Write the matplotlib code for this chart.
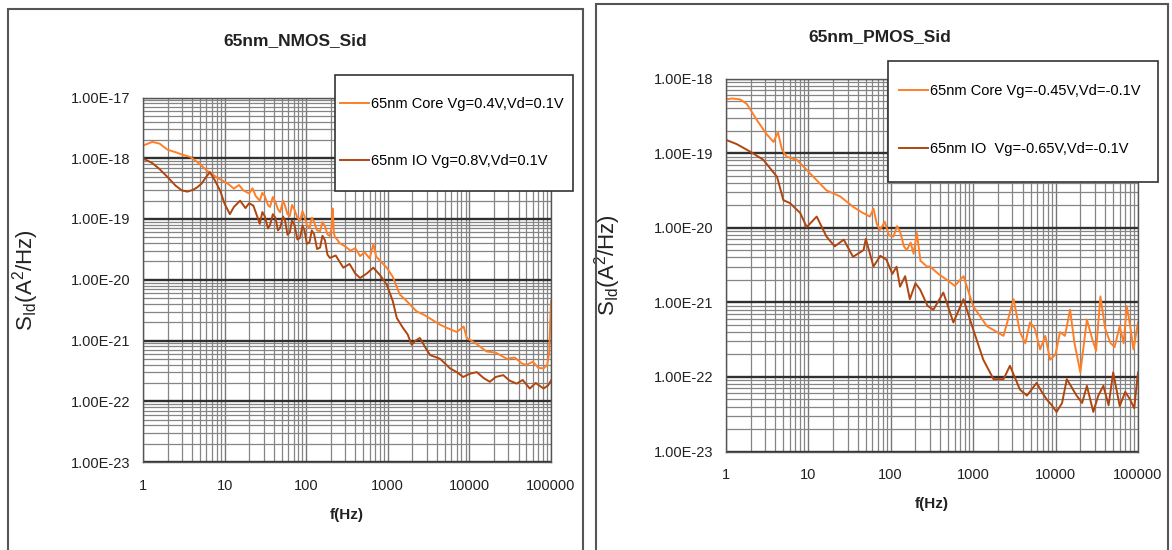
import matplotlib
matplotlib.use("Agg")
import matplotlib.pyplot as plt
from matplotlib.patches import Rectangle
from matplotlib.ticker import FixedLocator, FuncFormatter, NullFormatter

plt.rcParams['font.family'] = ['Liberation Sans', 'DejaVu Sans']

# --- data ---------------------------------------------------------------
nmos_core_f = [1, 1.15, 1.3, 1.6, 2.0, 2.5, 3.0, 3.8, 4.5, 5.2, 6.0, 7.0, 8.0, 9.5,
               11, 13, 15, 17, 20, 22, 24, 27, 29, 31, 34, 36, 39, 42, 45, 48, 52,
               55, 59, 63, 67, 72, 78, 84, 90, 95, 102, 110, 117, 125, 136, 148, 158,
               170, 182, 195, 205, 211, 218, 225, 240, 258, 300, 350, 400, 457, 520,
               600, 665, 720, 820, 970, 1150, 1400, 1700, 2250, 2800, 3500, 4370,
               5500, 7000, 8500, 9300, 12000, 16200, 21000, 28700, 36000, 44000,
               50000, 60000, 70000, 81000, 90000, 95000, 100000]
nmos_core_s = [1.62e-18, 1.74e-18, 1.86e-18, 1.74e-18, 1.38e-18, 1.26e-18, 1.15e-18,
               1.05e-18, 8.91e-19, 7.59e-19, 6.31e-19, 5.62e-19, 4.79e-19, 4.27e-19,
               3.80e-19, 3.16e-19, 3.63e-19, 2.95e-19, 2.63e-19, 3.20e-19, 2.40e-19,
               2.00e-19, 2.70e-19, 2.40e-19, 1.70e-19, 1.58e-19, 2.30e-19, 1.91e-19,
               1.45e-19, 1.29e-19, 2.00e-19, 1.66e-19, 1.20e-19, 1.12e-19, 1.70e-19,
               1.41e-19, 1.05e-19, 9.33e-20, 1.35e-19, 1.12e-19, 8.00e-20, 7.08e-20,
               1.05e-19, 8.91e-20, 6.50e-20, 6.31e-20, 8.90e-20, 7.59e-20, 5.60e-20,
               5.25e-20, 7.50e-20, 1.48e-19, 6.00e-20, 5.01e-20, 4.60e-20, 3.98e-20,
               3.55e-20, 3.02e-20, 3.31e-20, 2.45e-20, 2.82e-20, 2.24e-20, 3.89e-20,
               2.40e-20, 2.00e-20, 1.58e-20, 1.12e-20, 5.75e-21, 4.47e-21, 3.02e-21,
               2.63e-21, 2.19e-21, 1.82e-21, 1.58e-21, 1.38e-21, 1.70e-21, 1.10e-21,
               8.91e-22, 6.61e-22, 6.31e-22, 5.01e-22, 5.25e-22, 4.17e-22, 3.98e-22,
               4.47e-22, 3.55e-22, 3.47e-22, 3.98e-22, 6.31e-22, 4.47e-21]

nmos_io_f = [1, 1.1, 1.3, 1.6, 2.0, 2.5, 3.0, 3.5, 4.1, 4.6, 5.2, 6.0, 6.6, 7.5, 8.8,
             10, 11.6, 13, 15.5, 18, 20, 22.5, 25, 27, 29, 31, 34, 36, 39, 42, 45, 48,
             52, 55, 59, 63, 67, 72, 78, 84, 90, 95, 102, 110, 117, 125, 136, 148,
             158, 170, 182, 195, 230, 285, 340, 400, 457, 550, 665, 800, 970, 1150,
             1290, 1550, 1750, 1960, 2200, 2470, 2900, 3300, 4370, 5800, 7000, 8400,
             10000, 12300, 15000, 17800, 21000, 26000, 31000, 38000, 45000, 55000,
             65000, 81000, 92000, 100000]
nmos_io_s = [9.77e-19, 9.33e-19, 8.32e-19, 6.61e-19, 4.90e-19, 3.55e-19, 2.95e-19,
             2.82e-19, 3.02e-19, 3.31e-19, 3.80e-19, 5.01e-19, 5.89e-19, 4.47e-19,
             2.95e-19, 1.78e-19, 1.20e-19, 1.58e-19, 2.00e-19, 1.51e-19, 1.82e-19,
             1.66e-19, 1.12e-19, 8.32e-20, 1.30e-19, 1.12e-19, 7.00e-20, 7.94e-20,
             1.20e-19, 1.05e-19, 6.50e-20, 7.24e-20, 1.10e-19, 9.55e-20, 5.50e-20,
             6.03e-20, 9.50e-20, 7.94e-20, 4.60e-20, 4.90e-20, 7.80e-20, 6.61e-20,
             3.90e-20, 4.17e-20, 6.50e-20, 5.62e-20, 3.20e-20, 3.39e-20, 5.30e-20,
             4.47e-20, 2.60e-20, 2.29e-20, 2.51e-20, 1.58e-20, 1.82e-20, 1.26e-20,
             1.07e-20, 1.26e-20, 1.58e-20, 1.20e-20, 8.32e-21, 4.47e-21, 2.34e-21,
             1.58e-21, 1.26e-21, 8.51e-22, 1.00e-21, 1.10e-21, 7.59e-22, 5.75e-22,
             5.01e-22, 3.47e-22, 3.02e-22, 2.51e-22, 2.82e-22, 3.02e-22, 2.40e-22,
             2.09e-22, 2.51e-22, 2.69e-22, 2.19e-22, 1.95e-22, 2.24e-22, 1.62e-22,
             2.00e-22, 1.62e-22, 1.82e-22, 2.19e-22]

pmos_core_f = [1, 1.2, 1.49, 1.8, 2.4, 3.1, 3.8, 4.3, 4.8, 5.5, 7.3, 10.5, 16.7, 24.4,
               35, 45, 56, 62, 68, 74, 85, 95, 108, 120, 130, 145, 157, 175, 190, 208,
               230, 275, 300, 380, 480, 600, 765, 1000, 1470, 2340, 3100, 3700, 4300,
               4900, 5600, 6500, 7500, 8600, 10000, 11300, 13000, 15000, 17000, 20000,
               24000, 28000, 31000, 35000, 40000, 46000, 52000, 60000, 67000, 73000,
               80000, 88000, 94000, 100000]
pmos_core_s = [5.25e-19, 5.40e-19, 5.25e-19, 4.57e-19, 2.75e-19, 1.82e-19, 1.41e-19,
               1.91e-19, 1.12e-19, 8.91e-20, 8.13e-20, 5.37e-20, 3.16e-20, 2.63e-20,
               1.91e-20, 1.60e-20, 1.41e-20, 1.80e-20, 1.12e-20, 9.33e-21, 1.20e-20,
               7.94e-21, 7.59e-21, 1.05e-20, 8.91e-21, 5.62e-21, 5.01e-21, 6.31e-21,
               4.47e-21, 8.51e-21, 3.60e-21, 3.02e-21, 3.02e-21, 2.40e-21, 2.00e-21,
               1.66e-21, 2.24e-21, 8.91e-22, 4.79e-22, 3.55e-22, 1.10e-21, 3.98e-22,
               2.82e-22, 5.37e-22, 4.47e-22, 2.34e-22, 3.55e-22, 1.70e-22, 2.00e-22,
               3.98e-22, 3.55e-22, 7.94e-22, 2.82e-22, 1.15e-22, 5.89e-22, 3.16e-22,
               2.24e-22, 1.20e-21, 4.47e-22, 2.88e-22, 2.51e-22, 4.79e-22, 2.82e-22,
               8.91e-22, 5.01e-22, 2.34e-22, 3.55e-22, 5.37e-22]

pmos_io_f = [1, 1.36, 1.97, 2.86, 4.2, 5.0, 6.0, 8.0, 9.6, 12.7, 16.7, 21, 27, 35, 47,
             50, 62, 75, 89, 105, 118, 130, 150, 171, 200, 228, 280, 330, 436, 577,
             765, 1000, 1330, 1770, 2340, 2800, 3700, 4500, 5900, 6800, 7800, 9000,
             10300, 12000, 13700, 18000, 21000, 24000, 28700, 33000, 38000, 44000,
             50000, 60000, 70000, 80000, 90000, 100000]
pmos_io_s = [1.51e-19, 1.32e-19, 1.05e-19, 8.13e-20, 4.79e-20, 2.34e-20, 2.14e-20,
             1.58e-20, 1.02e-20, 1.41e-20, 7.59e-21, 5.62e-21, 6.92e-21, 4.07e-21,
             5.01e-21, 7.08e-21, 3.02e-21, 4.20e-21, 3.72e-21, 2.40e-21, 3.00e-21,
             1.62e-21, 2.24e-21, 1.10e-21, 1.80e-21, 1.48e-21, 9.00e-22, 7.94e-22,
             1.35e-21, 5.37e-22, 1.10e-21, 4.37e-22, 1.70e-22, 9.33e-23, 9.33e-23,
             1.41e-22, 6.76e-23, 5.62e-23, 8.32e-23, 6.31e-23, 5.01e-23, 4.17e-23,
             3.39e-23, 4.47e-23, 9.33e-23, 5.62e-23, 4.47e-23, 7.59e-23, 3.39e-23,
             5.62e-23, 7.59e-23, 4.17e-23, 1.15e-22, 4.07e-23, 6.31e-23, 5.01e-23,
             3.80e-23, 1.15e-22]

nmos_labels = ["65nm Core Vg=0.4V,Vd=0.1V", "65nm IO Vg=0.8V,Vd=0.1V"]
pmos_labels = ["65nm Core Vg=-0.45V,Vd=-0.1V", "65nm IO  Vg=-0.65V,Vd=-0.1V"]
titles = ["65nm_NMOS_Sid", "65nm_PMOS_Sid"]
x_decades = [1, 10, 100, 1000, 10000, 100000]

CORE = "#ff7f27"
IO = "#b0460f"
W, H = 1172, 550

fig = plt.figure(figsize=(W / 100, H / 100), dpi=100)


def px(x0, y0, x1, y1):
    # pixel box -> figure fraction [left, bottom, width, height]
    return [x0 / W, 1 - y1 / H, (x1 - x0) / W, (y1 - y0) / H]


def sci(v, pos):
    m, e = f"{v:.2E}".split("E")
    return f"{m}E{int(e)}"


def minors(decades):
    return [d * k for d in decades[:-1] for k in range(2, 10)]


def style(ax, y_decades):
    ax.set_xscale("log")
    ax.set_yscale("log")
    ax.set_xlim(x_decades[0], x_decades[-1])
    ax.set_ylim(y_decades[0], y_decades[-1])
    ax.xaxis.set_major_locator(FixedLocator(x_decades))
    ax.yaxis.set_major_locator(FixedLocator(y_decades))
    ax.xaxis.set_minor_locator(FixedLocator(minors(x_decades)))
    ax.yaxis.set_minor_locator(FixedLocator(minors(y_decades)))
    ax.xaxis.set_minor_formatter(NullFormatter())
    ax.yaxis.set_minor_formatter(NullFormatter())
    ax.yaxis.set_major_formatter(FuncFormatter(sci))
    ax.xaxis.set_major_formatter(FuncFormatter(lambda v, p: f"{v:.0f}"))
    ax.grid(True, which="minor", color="#858585", lw=0.9)
    ax.grid(True, which="major", axis="x", color="#777777", lw=1.0)
    ax.grid(True, which="major", axis="y", color="#303030", lw=1.7)
    ax.set_axisbelow(True)
    ax.tick_params(which="both", length=0)
    ax.tick_params(axis="y", pad=9, labelsize=10.5, colors="#222222")
    ax.tick_params(axis="x", pad=12, labelsize=10.5, colors="#222222")
    for s in ax.spines.values():
        s.set_color("#555555")
        s.set_linewidth(1.0)
    ax.set_xlabel("f(Hz)", fontsize=11, fontweight="bold", labelpad=11, color="#222222")
    ax.set_ylabel(r"$\mathregular{S_{Id}(A^2/Hz)}$", fontsize=16, color="#222222")
    ax.yaxis.set_label_coords(-0.25, 0.5)


panels = [
    dict(box=(7.5, 9, 583, 560), ax=(143, 97.5, 551, 462),
         ydec=[1e-23, 1e-22, 1e-21, 1e-20, 1e-19, 1e-18, 1e-17],
         title=titles[0], tx=295, ty=41, leg=(335, 75, 573, 191), legx=342,
         rows=(104.5, 161), data=[(nmos_core_f, nmos_core_s), (nmos_io_f, nmos_io_s)],
         labels=nmos_labels),
    dict(box=(596, 4, 1168, 560), ax=(725.7, 78.5, 1138, 451.5),
         ydec=[1e-23, 1e-22, 1e-21, 1e-20, 1e-19, 1e-18],
         title=titles[1], tx=880, ty=37, leg=(887.6, 61, 1158, 182), legx=900.5,
         rows=(91, 149), data=[(pmos_core_f, pmos_core_s), (pmos_io_f, pmos_io_s)],
         labels=pmos_labels),
]

for p in panels:
    bx0, by0, bx1, by1 = p["box"]
    fig.patches.append(Rectangle((bx0 / W, 1 - by1 / H), (bx1 - bx0) / W, (by1 - by0) / H,
                                 transform=fig.transFigure, fill=False,
                                 edgecolor="#555555", lw=1.5))
    ax = fig.add_axes(px(*p["ax"]))
    style(ax, p["ydec"])
    lines = []
    for (f, s), c in zip(p["data"], [CORE, IO]):
        ln, = ax.plot(f, s, color=c, lw=1.4)
        lines.append(ln)
    fig.text(p["tx"] / W, 1 - p["ty"] / H, p["title"], ha="center", va="center",
             fontsize=12.5, fontweight="bold", color="#222222")

    # legend box and entries
    lx0, ly0, lx1, ly1 = p["leg"]
    fig.patches.append(Rectangle((lx0 / W, 1 - ly1 / H), (lx1 - lx0) / W, (ly1 - ly0) / H,
                                 transform=fig.transFigure, facecolor="white",
                                 edgecolor="#333333", lw=1.2, zorder=5))
    for ln, lab, ry in zip(lines, p["labels"], p["rows"]):
        fig.legend([ln], [lab], loc="center left", frameon=False,
                   bbox_to_anchor=((p["legx"] - 2) / W, 1 - ry / H),
                   borderaxespad=0, borderpad=0, handlelength=2.0,
                   handletextpad=0.15, fontsize=10.5).set_zorder(6)

fig.savefig("out.png", dpi=100, facecolor="white")
